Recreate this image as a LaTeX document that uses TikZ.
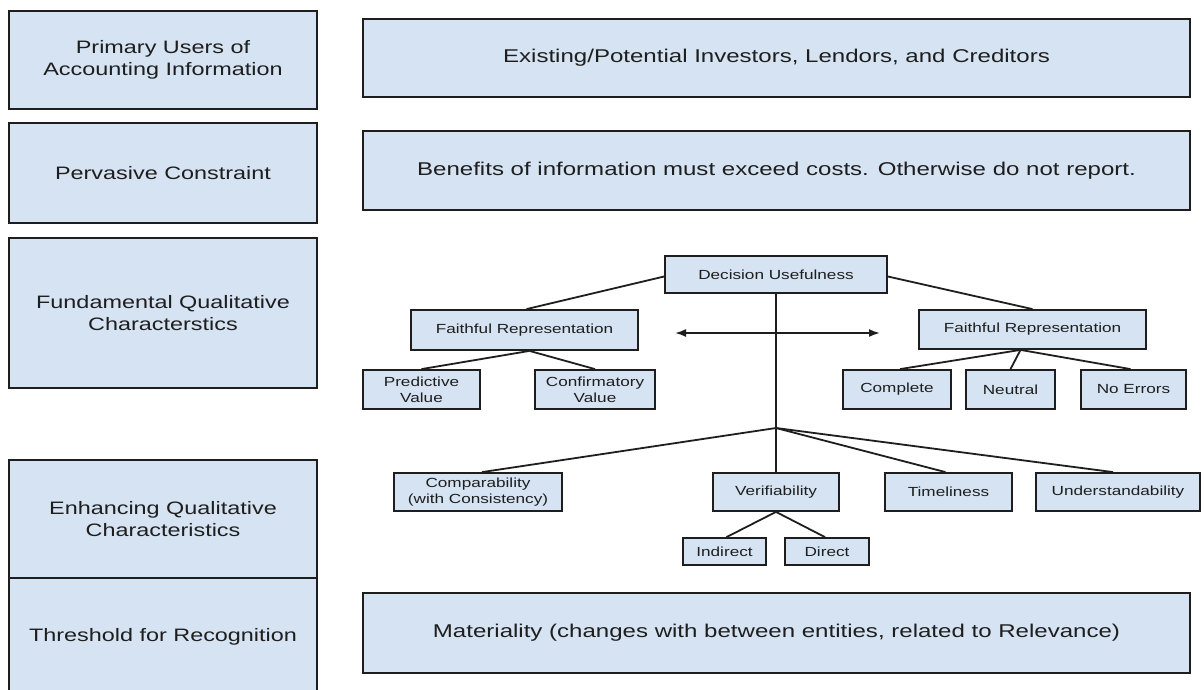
\documentclass[tikz,border=0pt]{standalone}
\usepackage{fontspec}
\setmainfont{Liberation Sans}[FakeStretch=1.3]
\usetikzlibrary{arrows.meta,calc}
\definecolor{boxfill}{HTML}{D5E3F2}
\definecolor{ink}{HTML}{1E1E1E}
\begin{document}
\begin{tikzpicture}[x=1pt,y=-1pt,
  bigbox/.style={draw=ink, line width=2.2pt, fill=boxfill, inner sep=0pt, align=center, text=ink,
    font=\fontsize{18}{22}\selectfont},
  smallbox/.style={draw=ink, line width=1.8pt, fill=boxfill, inner sep=0pt, align=center, text=ink,
    font=\fontsize{13.2}{16}\selectfont},
  link/.style={draw=ink, line width=1.8pt}]
\clip (0,0) rectangle (1204,689);
\fill[white] (0,0) rectangle (1204,689);
% left column
\node[bigbox, minimum width=308, minimum height=98] (L1) at (163,60) {Primary Users of\\Accounting Information};
\node[bigbox, minimum width=308, minimum height=100] (L2) at (163,173) {Pervasive Constraint};
\node[bigbox, minimum width=308, minimum height=150] (L3) at (163,313) {Fundamental Qualitative\\Characterstics};
\node[bigbox, minimum width=308, minimum height=118] (L4) at (163,519) {Enhancing Qualitative\\Characteristics};
\node[bigbox, minimum width=308, minimum height=117] (L5) at (163,636.5) {Threshold for Recognition};
% right big boxes
\node[bigbox, minimum width=827, minimum height=78, font=\fontsize{18.5}{22}\selectfont] (R1) at (776.5,58) {Existing/Potential Investors, Lendors, and Creditors};
\node[bigbox, minimum width=827, minimum height=79, font=\fontsize{18.5}{22}\selectfont] (R2) at (776.5,170.5) {Benefits of information must exceed costs. Otherwise do not report.};
\node[bigbox, minimum width=827, minimum height=80, font=\fontsize{18.5}{22}\selectfont] (R5) at (776.5,633) {Materiality (changes with between entities, related to Relevance)};
% tree
\node[smallbox, minimum width=222, minimum height=37] (DU) at (776,274.5) {Decision Usefulness};
\node[smallbox, minimum width=227, minimum height=40] (FRL) at (524.5,330) {Faithful Representation};
\node[smallbox, minimum width=227, minimum height=39] (FRR) at (1032.5,329.5) {Faithful Representation};
\node[smallbox, minimum width=117, minimum height=39] (PV) at (421.5,389.5) {Predictive\\Value};
\node[smallbox, minimum width=120, minimum height=39] (CV) at (595,389.5) {Confirmatory\\Value};
\node[smallbox, minimum width=108, minimum height=39] (CO) at (897,389.5) {Complete};
\node[smallbox, minimum width=89, minimum height=39] (NE) at (1010.5,389.5) {Neutral};
\node[smallbox, minimum width=105, minimum height=39] (NO) at (1133.5,389.5) {No Errors};
\node[smallbox, minimum width=168, minimum height=38] (CP) at (478,492) {Comparability\\(with Consistency)};
\node[smallbox, minimum width=126, minimum height=38] (VE) at (776,492) {Verifiability};
\node[smallbox, minimum width=127, minimum height=38] (TI) at (948.5,492) {Timeliness};
\node[smallbox, minimum width=164, minimum height=38] (UN) at (1118,492) {Understandability};
\node[smallbox, minimum width=83, minimum height=27] (IN) at (724.5,551.5) {Indirect};
\node[smallbox, minimum width=84, minimum height=27] (DI) at (827,551.5) {Direct};
\coordinate (J) at (776,428);
\coordinate (AL) at (675,333);
\coordinate (AR) at (880,333);
% connectors
\draw[link] ($(DU.west)+(0,2)$) -- ($(FRL.north)+(2,0)$);
\draw[link] ($(DU.east)+(0,2)$) -- (FRR.north);
\draw[link] ($(FRL.south)+(5,0)$) -- (PV.north);
\draw[link] ($(FRL.south)+(5,0)$) -- (CV.north);
\draw[link] ($(FRR.south)+(-12,0)$) -- ($(CO.north)+(3,0)$);
\draw[link] ($(FRR.south)+(-12,0)$) -- (NE.north);
\draw[link] ($(FRR.south)+(-12,0)$) -- ($(NO.north)+(-3,0)$);
\draw[link] (DU.south) -- (J) -- (VE.north);
\draw[link] (J) -- ($(CP.north)+(4,0)$);
\draw[link] (J) -- ($(TI.north)+(-3,0)$);
\draw[link] (J) -- ($(UN.north)+(-5,0)$);
\draw[link] (VE.south) -- ($(IN.north)+(2,0)$);
\draw[link] (VE.south) -- ($(DI.north)+(-2,0)$);
\draw[link, {Latex[length=11pt,width=8pt]}-{Latex[length=11pt,width=8pt]}] (AL) -- (AR);
\end{tikzpicture}
\end{document}
